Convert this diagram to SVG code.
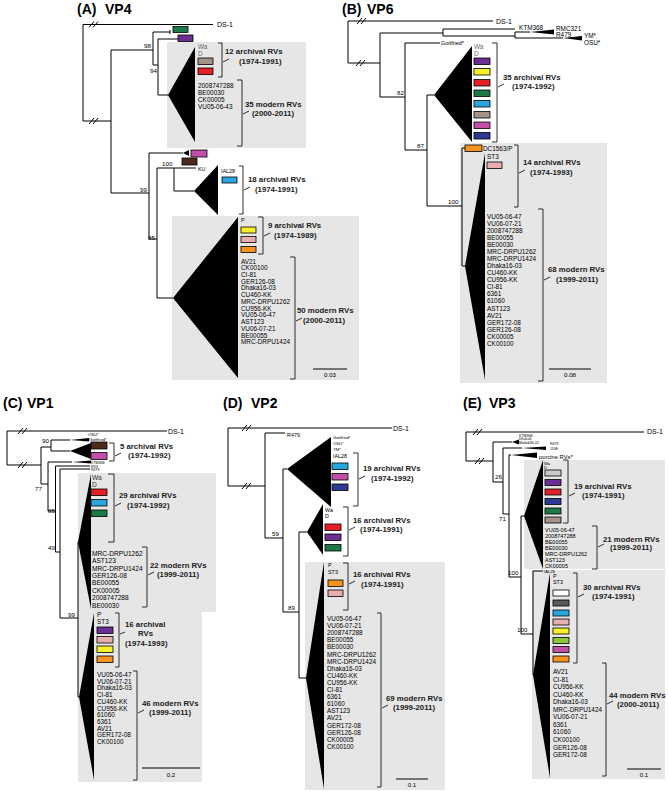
<svg xmlns="http://www.w3.org/2000/svg" width="668" height="791" viewBox="0 0 668 791">
<style>
text{font-family:"Liberation Sans",Arial,Helvetica,sans-serif;fill:#000}
.ttl{font-size:14px;font-weight:bold}
.grp{font-size:7.8px;font-weight:bold;fill:#1a1a1a}
.lf{font-size:6.4px}
.ds{font-size:7px}
.bs{font-size:6.2px}
.sm{font-size:5.4px}
.xs{font-size:4.2px}
.xxs{font-size:3.6px}
.wa{fill:#6b6b6b}
.gb{fill:#e6e6e6}
.ln{fill:none;stroke:#000;stroke-width:1}
.bk{fill:none;stroke:#1a1a1a;stroke-width:0.9}
.tri{fill:#000}
.b{stroke:#000;stroke-width:0.8}
.gn{fill:#1d7a46}.pu{fill:#6b2e92}.tp{fill:#a59388}.rd{fill:#e42026}.mg{fill:#c24fa7}.bn{fill:#4a2a1c}
.sk{fill:#2aa6df}.ye{fill:#f7ef2e}.ro{fill:#e9adb0}.or{fill:#f6921e}.nv{fill:#2c3a92}.lg{fill:#cbcbcb}
.dg{fill:#5b5b5b}.lm{fill:#8cc63f}.wh{fill:#fff}
</style>

<!-- ================= PANEL A ================= -->
<g id="panelA">
<text class="ttl" x="77" y="13.5">(A)</text><text class="ttl" x="105" y="13.5">VP4</text>
<rect class="gb" x="167" y="42" width="139" height="106"/>
<rect class="gb" x="172" y="216" width="187" height="164"/>
<g id="A-connectors">
<path class="ln" d="M213,24.5 H83 V121 H111 M111,50 V193 M111,50 H153 M153,32 V65 M153,32 H170 M170,30 V34 M153,65 H158 M158,39 V95 M158,39 H178 M158,95 H168 M111,193 H149 M149,153 V239 M149,153 H183 M149,239 H157 M157,168 V298 M157,168 H196 M174,168 V191 H194 M157,298 H173"/>
<path class="ln" d="M89,27.5 L94,21.5 M93,27.5 L98,21.5 M89,124 L94,118 M93,124 L98,118"/>
<text class="bs" x="144" y="48">98</text>
<text class="bs" x="150" y="73">94</text>
<text class="bs" x="162" y="166">100</text>
<text class="bs" x="140" y="191.5">99</text>
<text class="bs" x="148" y="240">85</text>
</g>
<g id="A-DS1"><text class="ds" x="217" y="27">DS-1</text></g>
<g id="A-green"><rect class="b gn" x="173" y="26.5" width="15" height="6"/></g>
<g id="A-purple"><rect class="b pu" x="178" y="35" width="15" height="6.5"/></g>
<g id="A-clade1">
<polygon class="tri" points="168,95 195,47 195,142"/>
<text class="lf wa" x="198" y="49">Wa</text><text class="lf wa" x="198" y="56">D</text>
<rect class="b tp" x="198" y="58" width="15" height="6.5"/>
<rect class="b rd" x="198" y="68" width="15" height="6.5"/>
<path class="bk" d="M218,43 H222 V77 H218 M223,62 L229,59"/>
<text class="grp" x="225" y="54">12 archival RVs</text><text class="grp" x="239" y="64">(1974-1991)</text>
<text class="lf" x="198" y="88"><tspan x="198">2008747288</tspan><tspan x="198" dy="7">BE00030</tspan><tspan x="198" dy="7">CK00005</tspan><tspan x="198" dy="7">VU05-06-43</tspan></text>
<path class="bk" d="M237,80 H242 V146 H237 M243,114 L249,111"/>
<text class="grp" x="245" y="107">35 modern RVs</text><text class="grp" x="252" y="116">(2000-2011)</text>
</g>
<g id="A-pink"><polygon class="tri" points="183,153 189,150 189,156"/><rect class="b mg" x="191" y="150" width="16" height="7"/></g>
<g id="A-KU"><rect class="b bn" x="182" y="158" width="15" height="7"/><text class="sm" x="198" y="170.5">KU</text></g>
<g id="A-clade2">
<polygon class="tri" points="194,191 218,165 218,215"/>
<text class="sm" x="221" y="173">IAL28</text>
<rect class="b sk" x="222" y="177" width="15" height="6"/>
<path class="bk" d="M239,166 H243 V214 H239 M244,190 L250,187"/>
<text class="grp" x="248" y="182">18 archival RVs</text><text class="grp" x="255" y="192">(1974-1991)</text>
</g>
<g id="A-clade3">
<polygon class="tri" points="173,298 238,217 238,378"/>
<text class="sm" x="241" y="222">P</text>
<rect class="b ye" x="241" y="227" width="15" height="6"/>
<rect class="b ro" x="241" y="236.5" width="15" height="6"/>
<rect class="b or" x="241" y="246.5" width="15" height="6"/>
<path class="bk" d="M258,217 H263 V254 H258 M264,236 L270,233"/>
<text class="grp" x="268" y="228">9 archival RVs</text><text class="grp" x="274" y="238">(1974-1989)</text>
<text class="lf" x="241" y="263.5"><tspan x="241">AV21</tspan><tspan x="241" dy="6.73">CK00100</tspan><tspan x="241" dy="6.73">CI-81</tspan><tspan x="241" dy="6.73">GER126-08</tspan><tspan x="241" dy="6.73">Dhaka16-03</tspan><tspan x="241" dy="6.73">CU460-KK</tspan><tspan x="241" dy="6.73">MRC-DRPU1262</tspan><tspan x="241" dy="6.73">CU956-KK</tspan><tspan x="241" dy="6.73">VU05-06-47</tspan><tspan x="241" dy="6.73">AST123</tspan><tspan x="241" dy="6.73">VU06-07-21</tspan><tspan x="241" dy="6.73">BE00055</tspan><tspan x="241" dy="6.73">MRC-DRPU1424</tspan></text>
<path class="bk" d="M290,257 H295 V379 H290 M296,321 L302,318"/>
<text class="grp" x="297" y="313">50 modern RVs</text><text class="grp" x="303" y="323">(2000-2011)</text>
</g>
<g id="A-scale"><path class="ln" d="M313,369 H347"/><text class="bs" x="330" y="377" text-anchor="middle">0.03</text></g>
</g>

<!-- ================= PANEL B ================= -->
<g id="panelB">
<text class="ttl" x="342" y="13.5">(B)</text><text class="ttl" x="367" y="13.5">VP6</text>
<rect class="gb" x="460" y="143" width="147" height="240"/>
<g id="B-connectors">
<path class="ln" d="M493,21 H348 V63 H380 M380,33 V97 M380,33 H443 M443,29 V36 M443,29 H515 M443,36 H515 M515,32 V38 M515,32 H530 M515,38 H563 M380,97 H405 M405,43 V150 M405,43 H440 M405,150 H427 M427,95 V206 M427,95 H434 M427,206 H462 M462,148 V266 M462,148 H465 M462,266 H465"/>
<path class="ln" d="M357,24 L362,18 M361,24 L366,18 M356,66 L361,60 M360,66 L365,60"/>
<text class="bs" x="397" y="95">82</text>
<text class="bs" x="417" y="148">87</text>
<text class="bs" x="448" y="204">100</text>
</g>
<g id="B-DS1"><text class="ds" x="496" y="24">DS-1</text></g>
<g id="B-KTM368"><text class="lf" x="519" y="29.5">KTM368</text></g>
<g id="B-RMC321"><polygon class="tri" points="530,32 554,29.5 554,34.5"/><text class="lf" x="556" y="30.5">RMC321</text><text class="lf" x="556" y="36.8">R479</text></g>
<g id="B-YM"><polygon class="tri" points="563,38 582,36 582,40.5"/><text class="lf" x="584" y="37.5">YM*</text><text class="lf" x="584" y="44.5">OSU*</text></g>
<g id="B-Gottfried"><text class="sm" x="441" y="44.5">Gottfried*</text></g>
<g id="B-clade1">
<polygon class="tri" points="434,95 472,46 472,142"/>
<text class="lf wa" x="474" y="49">Wa</text><text class="lf wa" x="474" y="55.5">D</text>
<rect class="b pu" x="474" y="58" width="16" height="6.5"/>
<rect class="b ye" x="474" y="68.5" width="16" height="6.5"/>
<rect class="b rd" x="474" y="79.5" width="16" height="6.5"/>
<rect class="b gn" x="474" y="90" width="16" height="6.5"/>
<rect class="b sk" x="474" y="100.5" width="16" height="6.5"/>
<rect class="b tp" x="474" y="111.5" width="16" height="6.5"/>
<rect class="b mg" x="474" y="122" width="16" height="6.5"/>
<rect class="b nv" x="474" y="132.5" width="16" height="6.5"/>
<path class="bk" d="M492,43 H497 V142 H492 M498,87 L504,84"/>
<text class="grp" x="503" y="80">35 archival RVs</text><text class="grp" x="512" y="89">(1974-1992)</text>
</g>
<g id="B-DC1563"><rect class="b or" x="465" y="145" width="17" height="6.5"/><text class="lf" x="483" y="151">DC1563/P</text></g>
<g id="B-clade2">
<polygon class="tri" points="465,266 485,153 485,380"/>
<text class="lf" x="487" y="158.5">ST3</text>
<rect class="b ro" x="487" y="162" width="15" height="6.5"/>
<path class="bk" d="M514,145 H518 V207 H514 M519,173 L525,170"/>
<text class="grp" x="523" y="165">14 archival RVs</text><text class="grp" x="530" y="175">(1974-1993)</text>
<text class="lf" x="487" y="218.5"><tspan x="487">VU05-06-47</tspan><tspan x="487" dy="7.08">VU06-07-21</tspan><tspan x="487" dy="7.08">2008747288</tspan><tspan x="487" dy="7.08">BE00055</tspan><tspan x="487" dy="7.08">BE00030</tspan><tspan x="487" dy="7.08">MRC-DRPU1262</tspan><tspan x="487" dy="7.08">MRC-DRPU1424</tspan><tspan x="487" dy="7.08">Dhaka16-03</tspan><tspan x="487" dy="7.08">CU460-KK</tspan><tspan x="487" dy="7.08">CU956-KK</tspan><tspan x="487" dy="7.08">CI-81</tspan><tspan x="487" dy="7.08">6361</tspan><tspan x="487" dy="7.08">61060</tspan><tspan x="487" dy="7.08">AST123</tspan><tspan x="487" dy="7.08">AV21</tspan><tspan x="487" dy="7.08">GER172-08</tspan><tspan x="487" dy="7.08">GER126-08</tspan><tspan x="487" dy="7.08">CK00005</tspan><tspan x="487" dy="7.08">CK00100</tspan></text>
<path class="bk" d="M538,209 H543 V381 H538 M544,280 L550,277"/>
<text class="grp" x="548" y="272">68 modern RVs</text><text class="grp" x="556" y="282">(1999-2011)</text>
</g>
<g id="B-scale"><path class="ln" d="M549,369 H591"/><text class="bs" x="570" y="377" text-anchor="middle">0.08</text></g>
</g>

<!-- ================= PANEL C ================= -->
<g id="panelC">
<text class="ttl" x="3" y="408">(C)</text><text class="ttl" x="27" y="408">VP1</text>
<rect class="gb" x="78" y="473" width="138" height="139"/>
<rect class="gb" x="78" y="612" width="124" height="170"/>
<g id="C-connectors">
<path class="ln" d="M167,431 H7 V465 H41 M41,447 V484 M41,447 H51 M51,440 V451 M51,440 H70 M51,451 H70 M41,484 H48 M48,462 V511 M48,462 H72 M48,511 H55.5 M55.5,466 V552 M55.5,466 H90 M55.5,552 H60 M60,469 V618 M60,469 H90 M60,618 H78 M78,542 V697 M78,697 H79"/>
<path class="ln" d="M18,434 L23,428 M22,434 L27,428 M18,468 L23,462 M22,468 L27,462"/>
<text class="bs" x="42" y="443">90</text>
<text class="bs" x="35" y="491">77</text>
<text class="bs" x="48" y="513">85</text>
<text class="bs" x="48" y="550">49</text>
<text class="bs" x="68" y="617">99</text>
</g>
<g id="C-DS1"><text class="ds" x="168" y="433.5">DS-1</text></g>
<g id="C-OSU"><polygon class="tri" points="70,440 89,438 89,441.5"/><text class="xs" x="88" y="436">OSU*</text><text class="xs" x="89" y="440.5">Gottfried*</text></g>
<g id="C-clade0">
<polygon class="tri" points="70,451 91,443 91,459"/>
<rect class="b bn" x="91" y="442" width="16" height="7"/>
<rect class="b mg" x="91" y="452.5" width="16" height="7"/>
<path class="bk" d="M109,443 H114 V461 H109 M115,456 L121,453"/>
<text class="grp" x="120" y="449">5 archival RVs</text><text class="grp" x="128" y="458">(1974-1992)</text>
</g>
<g id="C-KTM368"><polygon class="tri" points="72,462 91,460.5 91,463.5"/><text class="xxs" x="91" y="464">KTM368</text></g>
<g id="C-RV3"><text class="xxs" x="91" y="467.5">RV3</text></g>
<g id="C-R479"><text class="xxs" x="91" y="471">R479</text></g>
<g id="C-clade1">
<polygon class="tri" points="78,542 91,474 91,609"/>
<text class="lf" x="92" y="480" style="fill:#333;font-size:6.6px">Wa</text><text class="lf" x="92" y="487" style="fill:#333;font-size:6.6px">D</text>
<rect class="b rd" x="91" y="489" width="16" height="6.5"/>
<rect class="b sk" x="91" y="499.5" width="16" height="6.5"/>
<rect class="b gn" x="91" y="510" width="16" height="6.5"/>
<path class="bk" d="M108,474 H114 V542 H108 M115,506 L121,503"/>
<text class="grp" x="119" y="498">29 archival RVs</text><text class="grp" x="127" y="508">(1974-1992)</text>
<text class="lf" x="92" y="556" style="font-size:6.6px"><tspan x="92">MRC-DRPU1262</tspan><tspan x="92" dy="7.36">AST123</tspan><tspan x="92" dy="7.36">MRC-DRPU1424</tspan><tspan x="92" dy="7.36">GER126-08</tspan><tspan x="92" dy="7.36">BE00055</tspan><tspan x="92" dy="7.36">CK00005</tspan><tspan x="92" dy="7.36">2008747288</tspan><tspan x="92" dy="7.36">BE00030</tspan></text>
<path class="bk" d="M142,547 H147 V607 H142 M148,575 L154,572"/>
<text class="grp" x="150" y="568">22 modern RVs</text><text class="grp" x="157" y="577">(1999-2011)</text>
</g>
<g id="C-clade2">
<polygon class="tri" points="79,697 94,613 94,780"/>
<text class="lf" x="97" y="617">P</text><text class="lf" x="97" y="623.5">ST3</text>
<rect class="b pu" x="97" y="627" width="16" height="6.5"/>
<rect class="b ro" x="97" y="636.5" width="16" height="6.5"/>
<rect class="b ye" x="97" y="646" width="16" height="6.5"/>
<rect class="b or" x="97" y="656" width="16" height="6.5"/>
<path class="bk" d="M115,613 H119 V667 H115 M120,634 L125,632"/>
<text class="grp" x="125" y="626.5">16 archival</text><text class="grp" x="138" y="636">RVs</text><text class="grp" x="125" y="645.5">(1974-1993)</text>
<text class="lf" x="97" y="677"><tspan x="97">VU05-06-47</tspan><tspan x="97" dy="6.7">VU06-07-21</tspan><tspan x="97" dy="6.7">Dhaka16-03</tspan><tspan x="97" dy="6.7">CI-81</tspan><tspan x="97" dy="6.7">CU460-KK</tspan><tspan x="97" dy="6.7">CU956-KK</tspan><tspan x="97" dy="6.7">61060</tspan><tspan x="97" dy="6.7">6361</tspan><tspan x="97" dy="6.7">AV21</tspan><tspan x="97" dy="6.7">GER172-08</tspan><tspan x="97" dy="6.7">CK00100</tspan></text>
<path class="bk" d="M133,671 H137 V780 H133 M138,713 L144,710"/>
<text class="grp" x="142" y="706">46 modern RVs</text><text class="grp" x="149" y="715">(1999-2011)</text>
</g>
<g id="C-scale"><path class="ln" d="M142,768 H200"/><text class="bs" x="171" y="777" text-anchor="middle">0.2</text></g>
</g>

<!-- ================= PANEL D ================= -->
<g id="panelD">
<text class="ttl" x="223" y="408">(D)</text><text class="ttl" x="251" y="408">VP2</text>
<rect class="gb" x="305" y="562" width="140" height="228"/>
<g id="D-connectors">
<path class="ln" d="M392,428 H228 V486 H265 M265,433 V538 M265,433 H285 M265,538 H283 M283,469 V612 M283,469 H287 M283,612 H299 M299,532 V678 M299,532 H307 M299,678 H306"/>
<path class="ln" d="M242,431 L247,425 M246,431 L251,425 M242,489 L247,483 M246,489 L251,483"/>
<text class="bs" x="272" y="536">59</text>
<text class="bs" x="288" y="610">89</text>
</g>
<g id="D-DS1"><text class="ds" x="393" y="431">DS-1</text></g>
<g id="D-R479"><text class="sm" x="287" y="436.5">R479</text></g>
<g id="D-clade1">
<polygon class="tri" points="287,469 331,437 331,507"/>
<text class="xs" x="333" y="439">Gottfried*</text><text class="xs" x="333" y="445">OSU*</text><text class="xs" x="333" y="451">YM*</text><text class="sm" x="333" y="457.5">IAL28</text>
<rect class="b sk" x="332" y="463" width="16" height="6.5"/>
<rect class="b mg" x="332" y="473.5" width="16" height="6.5"/>
<rect class="b nv" x="332" y="484" width="16" height="6.5"/>
<path class="bk" d="M353,453 H358 V506 H353 M359,479 L365,476"/>
<text class="grp" x="363" y="471">19 archival RVs</text><text class="grp" x="371" y="481">(1974-1992)</text>
</g>
<g id="D-clade2">
<polygon class="tri" points="307,532 323,504 323,555"/>
<text class="sm" x="325" y="512">Wa</text><text class="sm" x="325" y="518">D</text>
<rect class="b rd" x="325" y="524" width="16" height="6.5"/>
<rect class="b pu" x="325" y="534" width="16" height="6.5"/>
<rect class="b gn" x="325" y="544.5" width="16" height="6.5"/>
<path class="bk" d="M343,507 H348 V556 H343 M349,530 L355,527"/>
<text class="grp" x="353" y="523">16 archival RVs</text><text class="grp" x="360" y="532">(1974-1991)</text>
</g>
<g id="D-clade3">
<polygon class="tri" points="306,678 324,562 324,789"/>
<text class="sm" x="328" y="567">P</text><text class="sm" x="328" y="573.5">ST3</text>
<rect class="b or" x="328" y="580" width="15" height="6.5"/>
<rect class="b ro" x="328" y="590" width="15" height="6.5"/>
<path class="bk" d="M343,563 H348 V610 H343 M349,584 L355,581"/>
<text class="grp" x="353" y="577">16 archival RVs</text><text class="grp" x="361" y="587">(1974-1991)</text>
<text class="lf" x="327" y="621"><tspan x="327">VU05-06-47</tspan><tspan x="327" dy="7.1">VU06-07-21</tspan><tspan x="327" dy="7.1">2008747288</tspan><tspan x="327" dy="7.1">BE00055</tspan><tspan x="327" dy="7.1">BE00030</tspan><tspan x="327" dy="7.1">MRC-DRPU1262</tspan><tspan x="327" dy="7.1">MRC-DRPU1424</tspan><tspan x="327" dy="7.1">Dhaka16-03</tspan><tspan x="327" dy="7.1">CU460-KK</tspan><tspan x="327" dy="7.1">CU956-KK</tspan><tspan x="327" dy="7.1">CI-81</tspan><tspan x="327" dy="7.1">6361</tspan><tspan x="327" dy="7.1">61060</tspan><tspan x="327" dy="7.1">AST123</tspan><tspan x="327" dy="7.1">AV21</tspan><tspan x="327" dy="7.1">GER172-08</tspan><tspan x="327" dy="7.1">GER126-08</tspan><tspan x="327" dy="7.1">CK00005</tspan><tspan x="327" dy="7.1">CK00100</tspan></text>
<path class="bk" d="M377,613 H381 V787 H377 M382,708 L388,705"/>
<text class="grp" x="386" y="701">69 modern RVs</text><text class="grp" x="393" y="710">(1999-2011)</text>
</g>
<g id="D-scale"><path class="ln" d="M396,779 H428"/><text class="bs" x="412" y="787" text-anchor="middle">0.1</text></g>
</g>

<!-- ================= PANEL E ================= -->
<g id="panelE">
<text class="ttl" x="463" y="408">(E)</text><text class="ttl" x="489" y="408">VP3</text>
<rect class="gb" x="524" y="460" width="141" height="109"/>
<rect class="gb" x="532" y="570" width="133" height="209"/>
<g id="E-connectors">
<path class="ln" d="M644,432 H466 V461 H493 M493,442 V482 M493,442 H512 M493,482 H503 M503,448 V514 M503,448 H522 M503,514 H509 M509,455 V577 M509,455 H511 M509,577 H521 M521,516 V634 M521,516 H524 M521,634 H533 M533,571 V675 M533,571 H543"/>
<path class="ln" d="M473,435 L478,429 M477,435 L482,429 M475,464 L480,458 M479,464 L484,458"/>
<text class="bs" x="495" y="479">26</text>
<text class="bs" x="499" y="521">71</text>
<text class="bs" x="508" y="574.5">100</text>
<text class="bs" x="517" y="631.5">100</text>
</g>
<g id="E-DS1"><text class="ds" x="647" y="434">DS-1</text></g>
<g id="E-KTM368"><polygon class="tri" points="512,442 519,439.5 519,444.5"/><text class="xxs" x="519" y="436.5">KTM368</text><text class="xxs" x="519" y="440">Dhaka6</text><text class="xxs" x="519" y="443.5">Matlab36-02</text></g>
<g id="E-R479"><polygon class="tri" points="522,448 546,446.5 546,450"/><text class="xxs" x="550" y="444.5">R479</text><text class="xxs" x="550" y="449.5">116E</text></g>
<g id="E-porcine"><polygon class="tri" points="511,455 537,452.5 537,458"/><text style="font-size:5.8px" x="539" y="458.5">porcine RVs*</text></g>
<g id="E-clade1">
<polygon class="tri" points="524,516 543,460 543,569"/>
<text class="xs" x="544" y="464.5">Wa</text><text class="xs" x="544" y="468.8">D</text>
<rect class="b lg" x="545" y="470" width="16" height="6"/>
<rect class="b pu" x="545" y="479.5" width="16" height="6"/>
<rect class="b rd" x="545" y="489" width="16" height="6"/>
<rect class="b nv" x="545" y="498.5" width="16" height="6"/>
<rect class="b gn" x="545" y="508" width="16" height="6"/>
<rect class="b tp" x="545" y="517" width="16" height="6"/>
<path class="bk" d="M563,460 H568 V523 H563 M569,496 L575,493"/>
<text class="grp" x="574" y="489">19 archival RVs</text><text class="grp" x="582" y="498">(1974-1991)</text>
<text x="545" y="531.5" style="font-size:5.5px"><tspan x="545">VU05-06-47</tspan><tspan x="545" dy="6.1">2008747288</tspan><tspan x="545" dy="6.1">BE00055</tspan><tspan x="545" dy="6.1">BE00030</tspan><tspan x="545" dy="6.1">MRC-DRPU1262</tspan><tspan x="545" dy="6.1">AST123</tspan><tspan x="545" dy="6.1">CK00005</tspan></text>
<path class="bk" d="M592,526 H597 V569 H592 M598,547 L604,544"/>
<text class="grp" x="603" y="542">21 modern RVs</text><text class="grp" x="610" y="549.5">(1999-2011)</text>
</g>
<g id="E-IAL28"><text class="xs" x="544" y="572.5">IAL28</text></g>
<g id="E-clade2">
<polygon class="tri" points="533,675 550,573 550,778"/>
<text class="sm" x="553" y="577.5">P</text><text class="sm" x="553" y="584">ST3</text>
<rect class="b wh" x="553" y="590" width="16" height="6"/>
<rect class="b dg" x="553" y="600" width="16" height="6"/>
<rect class="b sk" x="553" y="610" width="16" height="6"/>
<rect class="b ro" x="553" y="619" width="16" height="6"/>
<rect class="b ye" x="553" y="628" width="16" height="6"/>
<rect class="b lm" x="553" y="637.5" width="16" height="6"/>
<rect class="b mg" x="553" y="646.5" width="16" height="6"/>
<rect class="b or" x="553" y="656" width="16" height="6"/>
<path class="bk" d="M573,573 H577 V663 H573 M578,597 L584,594"/>
<text class="grp" x="583" y="590">30 archival RVs</text><text class="grp" x="592" y="599">(1974-1991)</text>
<text class="lf" x="553" y="674"><tspan x="553">AV21</tspan><tspan x="553" dy="7.55">CI-81</tspan><tspan x="553" dy="7.55">CU956-KK</tspan><tspan x="553" dy="7.55">CU460-KK</tspan><tspan x="553" dy="7.55">Dhaka16-03</tspan><tspan x="553" dy="7.55">MRC-DRPU1424</tspan><tspan x="553" dy="7.55">VU06-07-21</tspan><tspan x="553" dy="7.55">6361</tspan><tspan x="553" dy="7.55">61060</tspan><tspan x="553" dy="7.55">CK00100</tspan><tspan x="553" dy="7.55">GER126-08</tspan><tspan x="553" dy="7.55">GER172-08</tspan></text>
<path class="bk" d="M602,663 H606 V776 H602 M607,704 L613,701"/>
<text class="grp" x="609" y="698">44 modern RVs</text><text class="grp" x="617" y="706.5">(2000-2011)</text>
</g>
<g id="E-scale"><path class="ln" d="M627,769 H661"/><text class="bs" x="644" y="777" text-anchor="middle">0.1</text></g>
</g>
</svg>
